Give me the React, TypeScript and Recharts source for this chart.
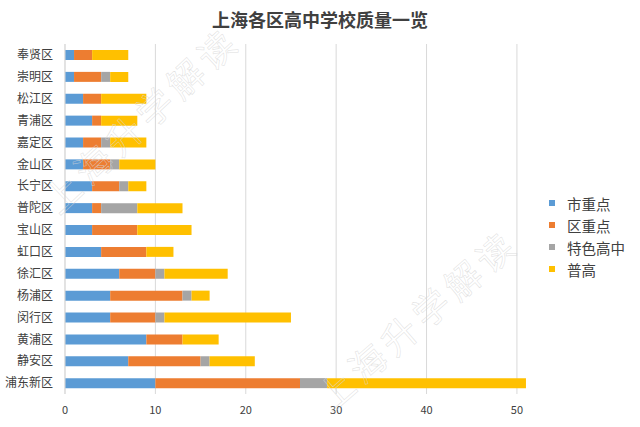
import React from 'react';
import { BarChart, Bar, XAxis, YAxis, CartesianGrid, Legend } from 'recharts';

const districts = ['奉贤区', '崇明区', '松江区', '青浦区', '嘉定区', '金山区', '长宁区', '普陀区', '宝山区', '虹口区', '徐汇区', '杨浦区', '闵行区', '黄浦区', '静安区', '浦东新区'];
const cityKey = [1, 1, 2, 3, 2, 2, 3, 3, 3, 4, 6, 5, 5, 9, 7, 10];
const districtKey = [2, 3, 2, 1, 2, 3, 3, 1, 5, 5, 4, 8, 5, 4, 8, 16];
const special = [0, 1, 0, 0, 1, 1, 1, 4, 0, 0, 1, 1, 1, 0, 1, 3];
const regular = [4, 2, 5, 4, 4, 4, 2, 5, 6, 3, 7, 2, 14, 4, 5, 22];
const xTicks = [0, 10, 20, 30, 40, 50];
const xMax = 52;

const series = [
    { key: 'city', name: '市重点', color: '#5B9BD5' },
    { key: 'district', name: '区重点', color: '#ED7D31' },
    { key: 'special', name: '特色高中', color: '#A5A5A5' },
    { key: 'regular', name: '普高', color: '#FFC000' },
];

const data = districts.map((name, i) => ({
    name,
    city: cityKey[i],
    district: districtKey[i],
    special: special[i],
    regular: regular[i],
}));

const font = '"Noto Sans CJK SC", "Noto Sans", sans-serif';
const watermark = '上海升学解读';

const LegendBox = () => (
    <div style={{ fontFamily: font }}>
        {series.map((s) => (
            <div key={s.key} style={{ display: 'flex', alignItems: 'center', height: 22, fontSize: 14.5, color: '#404040', whiteSpace: 'nowrap' }}>
                <span style={{ width: 6, height: 6, background: s.color, marginRight: 12, display: 'inline-block' }} />
                {s.name}
            </div>
        ))}
    </div>
);

// faint diagonal watermark text
const Watermarks = () => (
    <svg width={640} height={427} style={{ position: 'absolute', left: 0, top: 0, pointerEvents: 'none' }}>
        {[{ x: 140, y: 118, a: -43 }, { x: 416, y: 318, a: -41 }].map((w, i) => (
            <text
                key={i}
                x={w.x}
                y={w.y}
                transform={`rotate(${w.a} ${w.x} ${w.y})`}
                textAnchor="middle"
                dominantBaseline="central"
                fontSize={36}
                letterSpacing={6}
                fontFamily={font}
                fill="none"
                stroke="#d6d6d6"
                strokeOpacity={0.8}
                strokeWidth={0.5}
            >
                {watermark}
            </text>
        ))}
    </svg>
);

const gridX = ({ offset }: any) => xTicks.map((t) => offset.left + (t / xMax) * offset.width);

const App: React.FC = () => {
    return (
        <div style={{ position: 'absolute', left: 0, top: 0, width: 640, height: 427, background: 'white', fontFamily: font }}>
            <div style={{
                position: 'absolute',
                top: 6,
                width: 640,
                textAlign: 'center',
                fontSize: 18,
                fontWeight: 'bold',
                color: '#404040'
            }}>
                上海各区高中学校质量一览
            </div>
            <BarChart
                width={640}
                height={427}
                data={data}
                layout="vertical"
                margin={{ top: 44, right: 105, left: 5, bottom: 3 }}
                barSize={10}
            >
                <CartesianGrid horizontal={false} stroke="#d9d9d9" verticalCoordinatesGenerator={gridX} />
                <XAxis
                    type="number"
                    domain={[0, xMax]}
                    ticks={xTicks}
                    allowDataOverflow
                    axisLine={false}
                    tickLine={false}
                    tick={{ fill: '#404040', fontSize: 11 }}
                    tickMargin={6}
                />
                <YAxis
                    type="category"
                    dataKey="name"
                    width={60}
                    axisLine={{ stroke: '#d9d9d9' }}
                    tickLine={false}
                    tick={{ fill: '#404040', fontSize: 12 }}
                    tickMargin={6}
                    interval={0}
                />
                <Legend
                    layout="horizontal"
                    verticalAlign="middle"
                    content={<LegendBox />}
                    wrapperStyle={{ left: 549, top: 192, width: 90 }}
                />
                {series.map((s) => (
                    <Bar key={s.key} dataKey={s.key} name={s.name} stackId="a" fill={s.color} isAnimationActive={false} />
                ))}
            </BarChart>
            <Watermarks />
        </div>
    );
};

export default App;
